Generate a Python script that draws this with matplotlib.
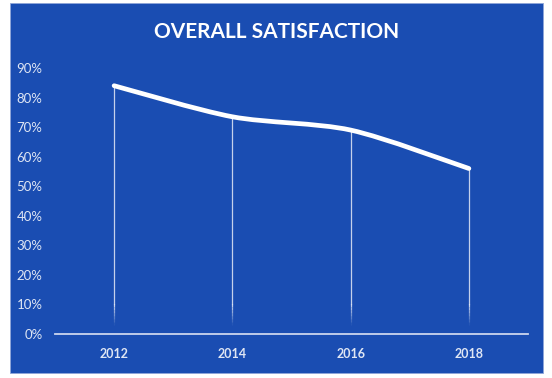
import matplotlib
matplotlib.use("Agg")
import matplotlib.pyplot as plt
from matplotlib.path import Path
from matplotlib.patches import PathPatch, Rectangle
from matplotlib.collections import LineCollection
import numpy as np

title = "OVERALL SATISFACTION"
years = ["2012", "2014", "2016", "2018"]
satisfaction = [0.84, 0.735, 0.69, 0.56]
y_ticks = [0.0, 0.1, 0.2, 0.3, 0.4, 0.5, 0.6, 0.7, 0.8, 0.9]

BG = "#1a4db2"
TXT = "#dfe6f4"

plt.rcParams["font.family"] = ["Lato", "DejaVu Sans"]

fig = plt.figure(figsize=(5.52, 3.78), dpi=100)
fig.patch.set_facecolor("white")
W, H = 552, 378
fig.patches.append(Rectangle((10 / W, 5 / H), (543 - 10) / W, (375 - 5) / H,
                             transform=fig.transFigure, facecolor=BG,
                             edgecolor="#8fa6d8", linewidth=0.6, zorder=-5))

ax = fig.add_axes([55 / W, (H - 334) / H, (528 - 55) / W, (334 - 68) / H])
ax.set_zorder(2)
ax.set_facecolor("none")
x = np.arange(len(years))
ax.set_xlim(-0.5, len(years) - 0.5)
ax.set_ylim(0, 0.9)

# smoothed line via cubic Bezier segments (Catmull-Rom style control points)
pts = np.column_stack([x, satisfaction])
verts = [tuple(pts[0])]
codes = [Path.MOVETO]
n = len(pts)
for i in range(n - 1):
    p0 = pts[max(i - 1, 0)]
    p1 = pts[i]
    p2 = pts[i + 1]
    p3 = pts[min(i + 2, n - 1)]
    c1 = p1 + (p2 - p0) / 7.0
    c2 = p2 - (p3 - p1) / 7.0
    verts += [tuple(c1), tuple(c2), tuple(p2)]
    codes += [Path.CURVE4] * 3
ax.add_patch(PathPatch(Path(verts, codes), fill=False, edgecolor="white",
                       linewidth=3.4, capstyle="round", joinstyle="round", zorder=4))

# drop lines fading towards the bottom
for xi, v in zip(x, satisfaction):
    ax.plot([xi, xi], [0.1, v], color="white", alpha=0.75, linewidth=0.9, zorder=3)
    ys = np.linspace(0.03, 0.1, 8)
    segs = [[(xi, ys[k]), (xi, ys[k + 1])] for k in range(len(ys) - 1)]
    alphas = np.linspace(0.05, 0.75, len(segs))
    cols = [(1, 1, 1, a) for a in alphas]
    ax.add_collection(LineCollection(segs, colors=cols, linewidths=0.9, zorder=3))

for s in ["top", "right", "left"]:
    ax.spines[s].set_visible(False)
ax.spines["bottom"].set_color("#ccd6ee")
ax.spines["bottom"].set_linewidth(1.3)

ax.set_xticks(x)
ax.set_xticklabels(years, fontsize=9, fontweight="bold", color=TXT)
ax.set_yticks(y_ticks)
ax.set_yticklabels([f"{int(round(t * 100))}%" for t in y_ticks], fontsize=9.5, color=TXT)
ax.tick_params(axis="both", length=0)
ax.tick_params(axis="x", pad=10)
ax.tick_params(axis="y", pad=9)

fig.text(276.5 / W, (H - 32.5) / H, title, ha="center", va="center",
         fontsize=15, fontweight="bold", color="white", zorder=3)

fig.savefig("out.png", dpi=100, facecolor=fig.get_facecolor())
